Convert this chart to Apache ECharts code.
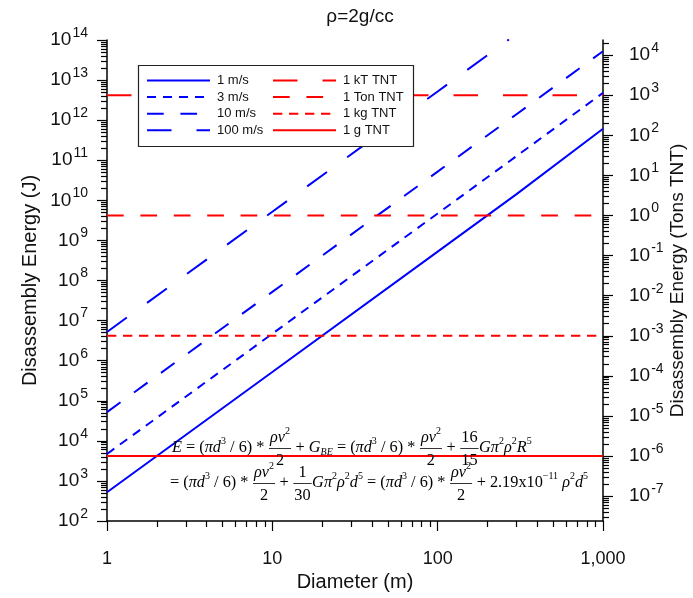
<!DOCTYPE html>
<html><head><meta charset="utf-8">
<script src="https://cdn.jsdelivr.net/npm/echarts@6/dist/echarts.min.js"></script>
<style>html,body{margin:0;padding:0;background:#fff}#c{width:693px;height:598px}</style>
</head><body><div id="c"></div>
<script>
// ---- data ----
const diameters = [1, 10, 100, 300, 1000];
const energy1ms = [5.2e2, 5.2e5, 5.25e8, 1.43e10, 6.1e11];
const energy3ms = [4.7e3, 4.7e6, 4.7e9, 1.27e11, 4.8e12];
const energy10ms = [5.2e4, 5.2e7, 5.2e10, 1.41e12, 5.25e13];
const diameters100 = [1, 10, 100, 270];
const energy100ms = [5.2e6, 5.2e9, 5.2e12, 1.03e14];
const speedNames = ['1 m/s', '3 m/s', '10 m/s', '100 m/s'];
const tntNames = ['1 kT TNT', '1 Ton TNT', '1 kg TNT', '1 g TNT'];
const tntEnergy = [4.184e12, 4.184e9, 4.184e6, 4.184e3];
const tntSpan = [1, 1000];
const xTickLabels = [1, 10, 100, 1000];
const leftTickExps = [2, 3, 4, 5, 6, 7, 8, 9, 10, 11, 12, 13, 14];
const rightTickExps = [-7, -6, -5, -4, -3, -2, -1, 0, 1, 2, 3, 4];
const JOULES_PER_TON = 4.184e9;

// ---- axis decoration values ----
const leftMajor = leftTickExps.map(e => Math.pow(10, e));
const rightMajor = rightTickExps.map(e => Math.pow(10, e) * JOULES_PER_TON);
const leftMinor = [], rightMinor = [], xMinor = [];
for (let e = 2; e < 14; e++) for (let m = 2; m <= 9; m++) leftMinor.push(m * Math.pow(10, e));
for (let e = -8; e <= 4; e++) for (let m = 2; m <= 9; m++) {
  const v = m * Math.pow(10, e) * JOULES_PER_TON;
  if (v > 1e2 && v < 1e14) rightMinor.push(v);
}
for (let e = 0; e < 3; e++) for (let m = 2; m <= 9; m++) xMinor.push(m * Math.pow(10, e));

const BLUE = '#0000ff', RED = '#ff0000';
const SANS = '"Liberation Sans", Arial, sans-serif';
const pairs = (xs, ys) => xs.map((x, i) => [x, ys[i]]);

const speedData = [pairs(diameters, energy1ms), pairs(diameters, energy3ms), pairs(diameters, energy10ms), pairs(diameters100, energy100ms)];
const speedDash = ['solid', [9, 7], [16.7, 16.7], [24.5, 25]];
const tntDash = [[24.5, 25], [16.7, 16.7], [9.3, 6.7], 'solid'];

const series = [];
speedNames.forEach((n, i) => series.push({
  name: n, type: 'line', xAxisIndex: 0, yAxisIndex: 0, data: speedData[i],
  symbol: 'none', lineStyle: { color: BLUE, width: 2, type: speedDash[i] }, itemStyle: { color: BLUE },
  clip: true, silent: true, z: 2
}));
tntNames.forEach((n, i) => series.push({
  name: n, type: 'line', xAxisIndex: 0, yAxisIndex: 0, data: tntSpan.map(x => [x, tntEnergy[i]]),
  symbol: 'none', lineStyle: { color: RED, width: 2, type: tntDash[i] }, itemStyle: { color: RED },
  clip: true, silent: true, z: 2
}));

// ---- equation text layout ----
const ctx = document.createElement('canvas').getContext('2d');
const SERIF = '"Liberation Serif", "Times New Roman", serif';
function fontStr(st, size) { return (st === 'i' ? 'italic ' : '') + size + 'px ' + SERIF; }
function measure(t, st, size) { ctx.font = fontStr(st, size); return ctx.measureText(t).width; }
function layoutRow(tokens, x0, y, fs, out) {
  let x = x0;
  for (const tk of tokens) {
    const kind = tk[0];
    if (kind === 'frac') {
      const wn = layoutRow(tk[1], 0, 0, fs, null), wd = layoutRow(tk[2], 0, 0, fs, null);
      const w = Math.max(wn, wd) + 3;
      if (out) {
        layoutRow(tk[1], x + (w - wn) / 2, y - 0.62 * fs, fs, out);
        layoutRow(tk[2], x + (w - wd) / 2, y + 0.78 * fs, fs, out);
        out.push({ type: 'line', shape: { x1: x + 0.5, y1: y + 0.5, x2: x + w - 0.5, y2: y + 0.5 }, style: { stroke: '#000', lineWidth: 0.8 }, z: 5 });
      }
      x += w;
    } else {
      const small = kind === 'sup' || kind === 'sub';
      const size = small ? Math.round(fs * 0.6) : fs;
      const st = (kind === 'i' || kind === 'sub') ? 'i' : 'n';
      const dy = kind === 'sup' ? -0.4 * fs : (kind === 'sub' ? 0.28 * fs : 0);
      const w = measure(tk[1], st, size);
      if (out) out.push({ type: 'text', x: x, y: y + dy, style: { text: tk[1], font: fontStr(st, size), fill: '#000', textAlign: 'left', textVerticalAlign: 'middle' }, z: 5 });
      x += w;
    }
  }
  return x - x0;
}
const KE = [['n', '('], ['i', 'πd'], ['sup', '3'], ['n', ' / 6) * '], ['frac', [['i', 'ρv'], ['sup', '2']], [['n', '2']]]];
const eqLine1 = [['i', 'E'], ['n', ' = ']].concat(KE, [['n', ' + '], ['i', 'G'], ['sub', 'BE'], ['n', ' = ']], KE,
  [['n', ' + '], ['frac', [['n', '16']], [['n', '15']]], ['i', 'Gπ'], ['sup', '2'], ['i', 'ρ'], ['sup', '2'], ['i', 'R'], ['sup', '5']]);
const eqLine2 = [['n', '= ']].concat(KE, [['n', ' + '], ['frac', [['n', '1']], [['n', '30']]], ['i', 'Gπ'], ['sup', '2'], ['i', 'ρ'], ['sup', '2'], ['i', 'd'], ['sup', '5'], ['n', ' = ']], KE,
  [['n', ' + 2.19x10'], ['sup', '−11'], ['n', ' '], ['i', 'ρ'], ['sup', '2'], ['i', 'd'], ['sup', '5']]);
const eqEls = [];
layoutRow(eqLine1, 172, 448, 16.3, eqEls);
layoutRow(eqLine2, 170, 483, 16.3, eqEls);

const supRich = {
  b: { fontSize: 19, lineHeight: 28, fontFamily: SANS, color: '#111' },
  s: { fontSize: 14, verticalAlign: 'top', fontFamily: SANS, color: '#111', padding: [0, 0, 0, 1] }
};
const axisLineStyle = { color: '#000', width: 1.5 };
const tickStyle = { color: '#000', width: 1.2 };
const legendCommon = {
  orient: 'vertical', itemWidth: 63, itemHeight: 14, itemGap: 3.6, padding: 0, selectedMode: false,
  itemStyle: { color: 'rgba(0,0,0,0)', borderWidth: 0, opacity: 0 },
  textStyle: { fontSize: 13, fontFamily: SANS, color: '#111', padding: [0, 0, 0, 2] }, z: 6
};

const option = {
  animation: false,
  backgroundColor: '#fff',
  title: { text: 'ρ=2g/cc', left: 355, top: 2, textAlign: 'center',
    textStyle: { fontSize: 19, fontWeight: 'normal', fontFamily: SANS, color: '#111' } },
  grid: { left: 107, right: 90, top: 40, bottom: 77, containLabel: false, outerBoundsMode: 'none' },
  legend: [
    Object.assign({ left: 146, top: 74, data: speedNames }, legendCommon),
    Object.assign({ left: 272, top: 74, data: tntNames }, legendCommon)
  ],
  xAxis: [
    { type: 'log', logBase: 10, min: 1, max: 1000, position: 'bottom',
      axisLine: { onZero: false, lineStyle: axisLineStyle },
      axisTick: { length: 10, customValues: xTickLabels, lineStyle: tickStyle },
      axisLabel: { customValues: xTickLabels, margin: 29, fontSize: 18, fontFamily: SANS, color: '#111',
        formatter: v => Math.round(v).toLocaleString('en-US') },
      splitLine: { show: false },
      name: 'Diameter (m)', nameLocation: 'middle', nameGap: 49,
      nameTextStyle: { fontSize: 20, fontFamily: SANS, color: '#111' } },
    { type: 'log', logBase: 10, min: 1, max: 1000, position: 'bottom',
      axisLine: { show: false, onZero: false },
      axisTick: { length: 6, customValues: xMinor, lineStyle: tickStyle },
      axisLabel: { show: false }, splitLine: { show: false } }
  ],
  yAxis: [
    { type: 'log', logBase: 10, min: 1e2, max: 1e14, position: 'left',
      axisLine: { show: true, onZero: false, lineStyle: axisLineStyle },
      axisTick: { show: true, length: 10, customValues: leftMajor, lineStyle: tickStyle },
      axisLabel: { customValues: leftMajor, margin: 19, rich: supRich,
        formatter: v => '{b|10}{s|' + Math.round(Math.log10(v)) + '}' },
      splitLine: { show: false },
      name: 'Disassembly Energy (J)', nameLocation: 'middle', nameGap: 67, nameRotate: 90, nameMoveOverlap: false,
      nameTextStyle: { fontSize: 20, fontFamily: SANS, color: '#111' } },
    { type: 'log', logBase: 10, min: 1e2, max: 1e14, position: 'right',
      axisLine: { show: true, onZero: false, lineStyle: axisLineStyle },
      axisTick: { show: true, length: 10, customValues: rightMajor, lineStyle: tickStyle },
      axisLabel: { customValues: rightMajor, margin: 26, rich: supRich,
        formatter: v => '{b|10}{s|' + Math.round(Math.log10(v / JOULES_PER_TON)) + '}' },
      splitLine: { show: false },
      name: 'Disassembly Energy (Tons TNT)', nameLocation: 'middle', nameGap: 65, nameRotate: 90, nameMoveOverlap: false,
      nameTextStyle: { fontSize: 19, fontFamily: SANS, color: '#111' } },
    { type: 'log', logBase: 10, min: 1e2, max: 1e14, position: 'left',
      axisLine: { show: false, onZero: false },
      axisTick: { show: true, length: 6, customValues: leftMinor, lineStyle: tickStyle },
      axisLabel: { show: false }, splitLine: { show: false } },
    { type: 'log', logBase: 10, min: 1e2, max: 1e14, position: 'right',
      axisLine: { show: false, onZero: false },
      axisTick: { show: true, length: 6, customValues: rightMinor, lineStyle: tickStyle },
      axisLabel: { show: false }, splitLine: { show: false } }
  ],
  graphic: [
    { type: 'rect', shape: { x: 138.5, y: 65.5, width: 275, height: 81 }, style: { fill: '#fff', stroke: '#222', lineWidth: 1.2 }, z: 3 }
  ].concat(eqEls),
  series: series
};
const chart = echarts.init(document.getElementById('c'), null, { renderer: 'canvas' });
chart.setOption(option);
</script></body></html>
